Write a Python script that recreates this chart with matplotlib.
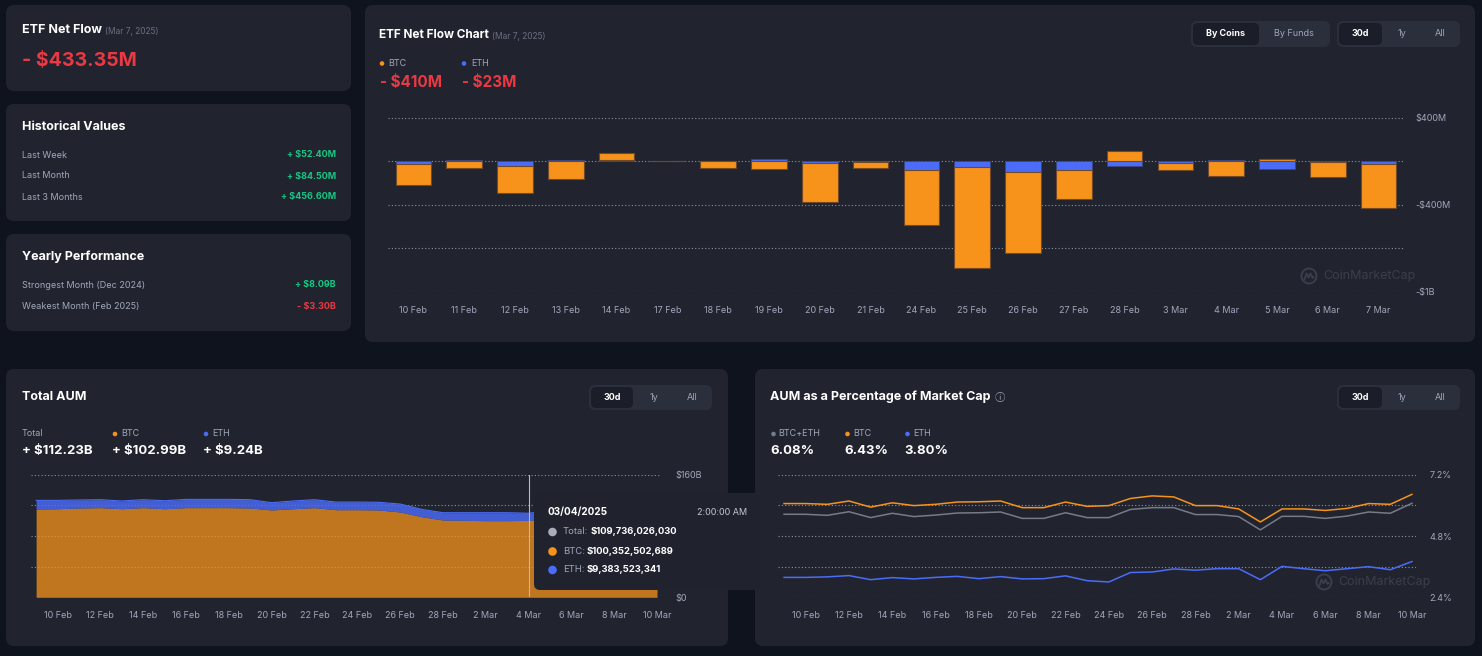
import matplotlib
matplotlib.use("Agg")
import matplotlib.pyplot as plt
from matplotlib.patches import FancyBboxPatch, Circle
import numpy as np

plt.rcParams['font.family'] = ['Inter', 'DejaVu Sans']

# ---------------- data ----------------
flow_dates = ['10 Feb', '11 Feb', '12 Feb', '13 Feb', '14 Feb', '17 Feb', '18 Feb', '19 Feb', '20 Feb', '21 Feb',
              '24 Feb', '25 Feb', '26 Feb', '27 Feb', '28 Feb', '3 Mar', '4 Mar', '5 Mar', '6 Mar', '7 Mar']
btc_flow = [-190, -65, -250, -160, 70, 0, -65, -72, -360, -60,
            -508, -930, -750, -270, 95, -70, -140, 18, -145, -410]
eth_flow = [-30, 12, -46, 12, 10, 0, 3, 20, -15, -3,
            -80, -55, -100, -80, -45, -15, 12, -70, -3, -23]
flow_grid = [400, 0, -400, -800, -1200]
flow_ticks = [400, -400, -1200]
flow_tick_labels = ['$400M', '-$400M', '-$1B']

day_labels = ['9 Feb', '10 Feb', '11 Feb', '12 Feb', '13 Feb', '14 Feb', '15 Feb', '16 Feb', '17 Feb', '18 Feb',
              '19 Feb', '20 Feb', '21 Feb', '22 Feb', '23 Feb', '24 Feb', '25 Feb', '26 Feb', '27 Feb', '28 Feb',
              '1 Mar', '2 Mar', '3 Mar', '4 Mar', '5 Mar', '6 Mar', '7 Mar', '8 Mar', '9 Mar', '10 Mar']
total_aum = [126.5, 126.5, 127.0, 127.4, 125.7, 127.4, 126.0, 127.8, 127.8, 127.8,
             127.4, 123.5, 125.7, 127.4, 124.3, 124.3, 124.0, 121.7, 114.8, 110.4,
             110.4, 110.4, 110.4, 109.7, 113.0, 112.5, 110.8, 111.6, 111.3, 112.2]
btc_aum = [115.2, 115.6, 116.5, 117.0, 115.6, 117.0, 115.6, 117.0, 117.0, 117.0,
           116.5, 114.0, 115.6, 117.0, 114.3, 114.3, 114.0, 111.3, 105.2, 100.9,
           100.4, 100.0, 100.0, 100.35, 103.4, 102.9, 101.4, 102.2, 101.9, 102.99]
aum_grid = [0, 40, 80, 120, 160]

btc_pct = [6.07, 6.07, 6.04, 6.17, 5.93, 6.10, 5.99, 6.04, 6.13, 6.14,
           6.17, 5.91, 5.91, 6.13, 5.96, 5.99, 6.27, 6.37, 6.33, 5.99,
           5.99, 5.86, 5.35, 5.86, 5.86, 5.80, 5.88, 6.07, 6.04, 6.43]
total_pct = [5.65, 5.65, 5.61, 5.75, 5.52, 5.69, 5.56, 5.62, 5.70, 5.71,
             5.74, 5.49, 5.49, 5.71, 5.52, 5.52, 5.84, 5.91, 5.91, 5.64,
             5.64, 5.56, 5.04, 5.57, 5.57, 5.49, 5.58, 5.74, 5.69, 6.08]
eth_pct = [3.18, 3.18, 3.20, 3.25, 3.09, 3.17, 3.12, 3.18, 3.22, 3.13,
           3.21, 3.12, 3.13, 3.24, 3.05, 3.00, 3.37, 3.39, 3.51, 3.46,
           3.52, 3.52, 3.09, 3.61, 3.52, 3.44, 3.52, 3.60, 3.48, 3.80]
pct_grid = [2.4, 3.6, 4.8, 6.0, 7.2]

# ---------------- style ----------------
BG = '#0e131e'
CARD = '#21242f'
BTN = '#2b2e3b'
BTN_SEL = '#1b1e28'
WHITE = '#ffffff'
GRAY = '#a1a7bb'
DIM = '#6b7083'
RED = '#ea3943'
GREEN = '#16c784'
ORANGE = '#f7931a'
BLUE = '#4a6cf7'
LGRAY = '#767b89'
GRID = '#8d93a3'
WM = '#3b3f4c'

W, H = 1482, 656
fig = plt.figure(figsize=(W / 100, H / 100), dpi=100, facecolor=BG)

bg = fig.add_axes([0, 0, 1, 1], zorder=0)
bg.set_xlim(0, W)
bg.set_ylim(H, 0)
bg.axis('off')

over = fig.add_axes([0, 0, 1, 1], zorder=10)
over.set_xlim(0, W)
over.set_ylim(H, 0)
over.axis('off')
over.patch.set_alpha(0)


def card(ax, x0, y0, x1, y1, color=CARD, r=8, z=1):
    ax.add_patch(FancyBboxPatch((x0, y0), x1 - x0, y1 - y0,
                                boxstyle=f"round,pad=0,rounding_size={r}",
                                fc=color, ec='none', zorder=z))


def txt(ax, x, y, s, size=7, color=WHITE, weight='normal', ha='left', z=5):
    return ax.text(x, y, s, fontsize=size, color=color, fontweight=weight,
                   ha=ha, va='center', zorder=z)


def after(ax, prev, s, size, color, weight='normal', gap=3, z=5, family=None):
    kw = {}
    if family is not None:
        kw['family'] = family
    return ax.annotate(s, xy=(1, 0), xycoords=prev, xytext=(gap, 0), textcoords='offset pixels',
                       fontsize=size, color=color, fontweight=weight, ha='left', va='bottom',
                       zorder=z, **kw)


def dot(ax, x, y, color, r=2.3, z=6):
    ax.add_patch(Circle((x, y), r, fc=color, ec='none', zorder=z))


def buttons(ax, x0, x1, y0, y1, sel_x1, items):
    card(ax, x0, y0, x1, y1, BTN, r=6, z=2)
    card(ax, x0 + 2, y0 + 2, sel_x1, y1 - 2, BTN_SEL, r=5, z=3)
    for i, (cx, s) in enumerate(items):
        txt(ax, cx, (y0 + y1) / 2, s, 6.5, WHITE if i == 0 else GRAY,
            'bold' if i == 0 else 'normal', ha='center')


def watermark(ax, x, y):
    ax.add_patch(Circle((x, y), 7.5, fc='none', ec=WM, lw=1.4, zorder=6))
    xs = np.array([-4.5, -2.5, -0.5, 1.5, 3.5, 4.5])
    ys = np.array([3.5, -2.5, 1.5, -2.5, 2.0, 1.0])
    ax.plot(x + xs, y + ys, color=WM, lw=1.3, zorder=6)
    ax.text(x + 14, y, 'CoinMarketCap', fontsize=9, color=WM, ha='left', va='center', zorder=6)


# ---------------- left cards ----------------
card(bg, 6, 5, 351, 91)
t = txt(bg, 22, 30, 'ETF Net Flow', 9, WHITE, 'bold')
after(bg, t, '(Mar 7, 2025)', 6, DIM)
txt(bg, 22, 61, '- $433.35M', 14, RED, 'bold')

card(bg, 6, 104, 351, 221)
txt(bg, 22, 127, 'Historical Values', 9, WHITE, 'bold')
for y, lab, val in [(155, 'Last Week', '+ $52.40M'), (176, 'Last Month', '+ $84.50M'),
                    (197, 'Last 3 Months', '+ $456.60M')]:
    txt(bg, 22, y, lab, 6.5, GRAY)
    txt(bg, 336, y, val, 6.5, GREEN, 'bold', ha='right')

card(bg, 6, 234, 351, 331)
txt(bg, 22, 257, 'Yearly Performance', 9, WHITE, 'bold')
txt(bg, 22, 285, 'Strongest Month (Dec 2024)', 6.5, GRAY)
txt(bg, 336, 285, '+ $8.09B', 6.5, GREEN, 'bold', ha='right')
txt(bg, 22, 306, 'Weakest Month (Feb 2025)', 6.5, GRAY)
txt(bg, 336, 306, '- $3.30B', 6.5, RED, 'bold', ha='right')

# ---------------- top right card ----------------
card(bg, 365, 5, 1475, 342)
t = txt(bg, 379, 35, 'ETF Net Flow Chart', 8.5, WHITE, 'bold')
after(bg, t, '(Mar 7, 2025)', 6, DIM)
dot(bg, 382, 63.5, ORANGE)
txt(bg, 388.5, 63.5, 'BTC', 6.5, GRAY)
dot(bg, 464, 63.5, BLUE)
txt(bg, 471, 63.5, 'ETH', 6.5, GRAY)
txt(bg, 380, 83, '- $410M', 11, RED, 'bold')
txt(bg, 462, 83, '- $23M', 11, RED, 'bold')
buttons(bg, 1191, 1330, 21, 47, 1259, [(1226, 'By Coins'), (1294, 'By Funds')])
buttons(bg, 1337, 1460, 21, 47, 1382, [(1360, '30d'), (1402, '1y'), (1440, 'All')])
watermark(over, 1309, 276)


def px_axes(x0, y0, x1, y1):
    a = fig.add_axes([x0 / W, 1 - y1 / H, (x1 - x0) / W, (y1 - y0) / H], zorder=5)
    a.patch.set_alpha(0)
    for s in a.spines.values():
        s.set_visible(False)
    return a


ax1 = px_axes(388, 118, 1404, 291)
x = np.arange(len(flow_dates))
btc_arr = np.array(btc_flow, dtype=float)
eth_arr = np.array(eth_flow, dtype=float)
bottom_btc = np.where(np.sign(btc_arr) == np.sign(eth_arr), eth_arr, 0.0)
for g in flow_grid:
    ax1.axhline(g, color=GRID, lw=0.8, ls=(0, (1, 2)), zorder=1)
ax1.bar(x, eth_arr, width=0.7, color=BLUE, edgecolor='#3a4680', linewidth=0.6, zorder=3)
ax1.bar(x, btc_arr, width=0.7, bottom=bottom_btc, color=ORANGE, edgecolor='#70482a', linewidth=0.8, zorder=3)
ax1.set_xlim(-0.5, len(flow_dates) - 0.5)
ax1.set_ylim(-1200, 400)
ax1.set_xticks(x)
ax1.set_xticklabels(flow_dates)
ax1.yaxis.tick_right()
ax1.set_yticks(flow_ticks)
ax1.set_yticklabels(flow_tick_labels)
ax1.tick_params(axis='x', length=0, pad=11, labelsize=6.5, labelcolor=GRAY)
ax1.tick_params(axis='y', length=0, pad=8.5, labelsize=6.5, labelcolor=GRAY)

# ---------------- bottom left card ----------------
card(bg, 6, 369, 728, 646)
txt(bg, 22, 397, 'Total AUM', 9, WHITE, 'bold')
buttons(bg, 589, 712, 385, 410, 633, [(612, '30d'), (654, '1y'), (692, 'All')])
txt(bg, 22, 434, 'Total', 6.5, GRAY)
dot(bg, 115, 434, ORANGE)
txt(bg, 121, 434, 'BTC', 6.5, GRAY)
dot(bg, 206, 434, BLUE)
txt(bg, 212, 434, 'ETH', 6.5, GRAY)
txt(bg, 22, 451, '+ $112.23B', 9.5, WHITE, 'bold')
txt(bg, 112, 451, '+ $102.99B', 9.5, WHITE, 'bold')
txt(bg, 203, 451, '+ $9.24B', 9.5, WHITE, 'bold')

ax2 = px_axes(31, 474.7, 660, 597.3)
d = np.arange(len(day_labels))
for g in aum_grid:
    ax2.axhline(g, color=GRID, lw=0.8, ls=(0, (1, 2)), zorder=1)
ax2.fill_between(d, 0, btc_aum, color=ORANGE, alpha=0.74, lw=0, zorder=2)
ax2.fill_between(d, btc_aum, total_aum, color=BLUE, alpha=0.82, lw=0, zorder=2)
ax2.plot(d, total_aum, color=BLUE, lw=0.8, zorder=3)
ax2.axvline(23, color='#b5b9c4', lw=0.8, zorder=4)
ax2.set_xlim(-0.24, 29.14)
ax2.set_ylim(0, 160)
ax2.set_xticks(d[1::2])
ax2.set_xticklabels(day_labels[1::2])
ax2.yaxis.tick_right()
ax2.set_yticks([0, 160])
ax2.set_yticklabels(['$0', '$160B'])
ax2.tick_params(axis='x', length=0, pad=10, labelsize=6.5, labelcolor=GRAY)
ax2.tick_params(axis='y', length=0, pad=11, labelsize=6.5, labelcolor=GRAY)

# ---------------- bottom right card ----------------
card(bg, 755, 369, 1475, 646)
t = txt(bg, 770, 397, 'AUM as a Percentage of Market Cap', 9, WHITE, 'bold')
after(bg, t, 'ⓘ', 7.5, GRAY, gap=4, family=['Noto Sans CJK JP', 'DejaVu Sans'])
buttons(bg, 1337, 1460, 385, 410, 1382, [(1360, '30d'), (1402, '1y'), (1440, 'All')])
dot(bg, 773.5, 434, LGRAY)
txt(bg, 778.5, 434, 'BTC+ETH', 6.5, GRAY)
dot(bg, 847.5, 434, ORANGE)
txt(bg, 853, 434, 'BTC', 6.5, GRAY)
dot(bg, 907.5, 434, BLUE)
txt(bg, 913.5, 434, 'ETH', 6.5, GRAY)
txt(bg, 770, 451, '6.08%', 9.5, WHITE, 'bold')
txt(bg, 844.5, 451, '6.43%', 9.5, WHITE, 'bold')
txt(bg, 904.5, 451, '3.80%', 9.5, WHITE, 'bold')

ax3 = px_axes(778, 474.7, 1415.6, 597.3)
for g in pct_grid:
    ax3.axhline(g, color=GRID, lw=0.8, ls=(0, (1, 2)), zorder=1)
ax3.plot(d, total_pct, color=LGRAY, lw=1.1, zorder=3)
ax3.plot(d, btc_pct, color=ORANGE, lw=1.1, zorder=3)
ax3.plot(d, eth_pct, color=BLUE, lw=1.1, zorder=3)
ax3.set_xlim(-0.28, 29.17)
ax3.set_ylim(2.4, 7.2)
ax3.set_xticks(d[1::2])
ax3.set_xticklabels(day_labels[1::2])
ax3.yaxis.tick_right()
ax3.set_yticks([2.4, 4.8, 7.2])
ax3.set_yticklabels(['2.4%', '4.8%', '7.2%'])
ax3.tick_params(axis='x', length=0, pad=10, labelsize=6.5, labelcolor=GRAY)
ax3.tick_params(axis='y', length=0, pad=10, labelsize=6.5, labelcolor=GRAY)
watermark(over, 1324, 582)

# ---------------- tooltip ----------------
card(over, 534, 493, 760, 590, '#20232e', r=6, z=7)
txt(over, 547, 512.5, '03/04/2025', 7.2, WHITE, 'bold', z=8)
txt(over, 697, 512.5, '2:00:00 AM', 6.5, '#c3c7d2', z=8)
for y, c, lab, val in [(532, '#a9adb8', 'Total:', '$109,736,026,030'),
                       (551.5, ORANGE, 'BTC:', '$100,352,502,689'),
                       (570, BLUE, 'ETH:', '$9,383,523,341')]:
    dot(over, 552.5, y, c, r=4.3, z=8)
    tl = txt(over, 563, y, lab, 6.8, GRAY, z=8)
    after(over, tl, val, 6.8, WHITE, 'bold', gap=2, z=9)

fig.savefig('out.png', dpi=100, facecolor=BG)
